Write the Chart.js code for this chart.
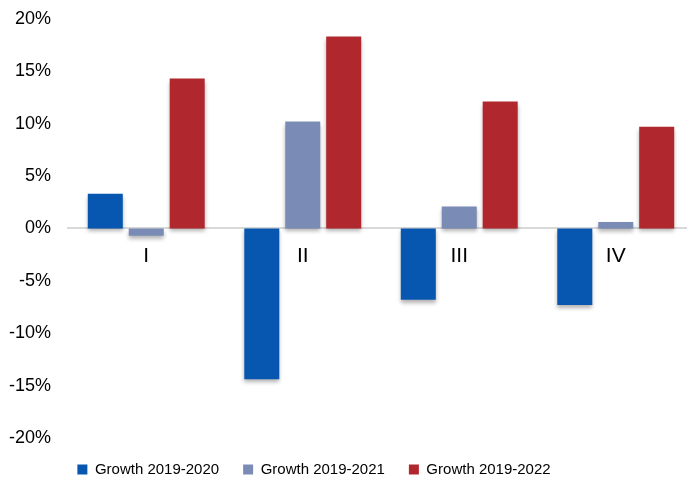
<!DOCTYPE html>
<html lang="en">
<head>
<meta charset="UTF-8">
<title>Growth by quarter</title>
<script src="https://cdn.jsdelivr.net/npm/chart.js"></script>
<style>
  html, body { margin: 0; padding: 0; background: #fff; overflow: hidden; }
  /* the original picture is cut off a few pixels on the right and at the top */
  #wrap { width: 694px; height: 506px; margin-top: -9px; }
</style>
</head>
<body>
<div id="wrap"><canvas id="growthChart"></canvas></div>
<script>
  // values, in percent
  const quarters = ["I", "II", "III", "IV"];
  const growth2020 = [3.3, -14.4, -6.8, -7.3];
  const growth2021 = [-0.7, 10.2, 2.1, 0.6];
  const growth2022 = [14.3, 18.3, 12.1, 9.7];
  const yTicks = [-20, -15, -10, -5, 0, 5, 10, 15, 20];

  Chart.defaults.font.family = "'Liberation Sans', Arial, sans-serif";

  // soft drop shadow under the bars, like the office chart
  const barShadow = {
    id: "barShadow",
    beforeDatasetsDraw(chart) {
      const ctx = chart.ctx;
      ctx.save();
      ctx.shadowColor = "rgba(0,0,0,0.3)";
      ctx.shadowBlur = 4;
      ctx.shadowOffsetY = 3;
    },
    afterDatasetsDraw(chart) {
      chart.ctx.restore();
    }
  };

  // legend sits left of centre in the original
  const legendShift = {
    id: "legendShift",
    afterLayout(chart) {
      chart.legend.left -= 33;
      chart.legend.right -= 33;
    }
  };

  const ctx = document.getElementById("growthChart").getContext("2d");
  new Chart(ctx, {
    type: "bar",
    data: {
      labels: quarters,
      datasets: [
        { label: "Growth 2019-2020", data: growth2020, backgroundColor: "#0757b0" },
        { label: "Growth 2019-2021", data: growth2021, backgroundColor: "#7a8cb6" },
        { label: "Growth 2019-2022", data: growth2022, backgroundColor: "#b0282e" }
      ]
    },
    options: {
      responsive: true,
      maintainAspectRatio: false,
      animation: false,
      datasets: { bar: { categoryPercentage: 0.785, barPercentage: 0.855 } },
      layout: { padding: { left: 0, right: 0, top: 0, bottom: 10 } },
      plugins: {
        legend: {
          position: "bottom",
          labels: { boxWidth: 10, boxHeight: 10, padding: 24, color: "#000", font: { size: 15 } }
        },
        tooltip: { enabled: false }
      },
      scales: {
        x: {
          position: { y: 0 },
          grid: { display: false, drawTicks: false },
          border: { display: true, color: "#d9d9d9", width: 2 },
          ticks: { color: "#000", font: { size: 21 }, padding: 15 }
        },
        y: {
          min: -20,
          max: 20,
          afterBuildTicks: scale => { scale.ticks = yTicks.map(v => ({ value: v })); },
          afterFit: scale => { scale.width = 68; },
          grid: { display: false, drawTicks: false },
          border: { display: false },
          ticks: { color: "#000", font: { size: 18 }, padding: 17, callback: v => v + "%" }
        }
      }
    },
    plugins: [barShadow, legendShift]
  });
</script>
</body>
</html>
